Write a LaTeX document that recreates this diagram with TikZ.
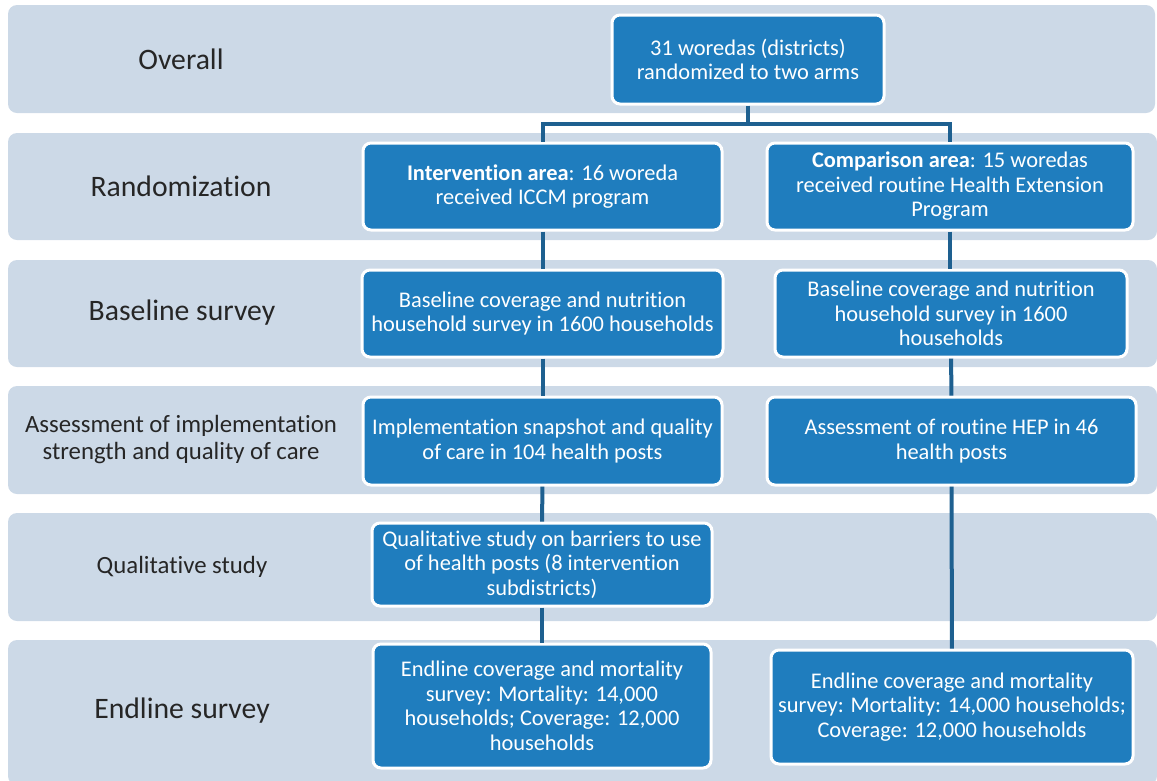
\documentclass[tikz,border=0pt]{standalone}
\usepackage{fontspec}
\setmainfont{Carlito}[Ligatures=NoCommon]
\definecolor{bandcol}{RGB}{204,217,231}
\definecolor{boxcol}{RGB}{31,125,190}
\definecolor{linecol}{RGB}{30,96,144}
\begin{document}
\begin{tikzpicture}[x=1pt,y=-1pt,
  band/.style={fill=bandcol, rounded corners=9pt},
  stepbox/.style={rectangle, rounded corners=8pt, fill=boxcol, draw=white, line width=3pt, text=white, align=center, inner sep=0pt, font=\fontsize{22.4}{24.5}\selectfont},
  lab/.style={align=center, text=black!85, font=\fontsize{29.7}{33}\selectfont},
  labs/.style={align=center, text=black!85, font=\fontsize{24.8}{27}\selectfont},
  conn/.style={draw=linecol, line width=4pt}]
\useasboundingbox (0,0) rectangle (1157,780);
\fill[band] (8,5) rectangle (1155,113);
\fill[band] (8,133) rectangle (1157,240);
\fill[band] (8,260) rectangle (1157,367);
\fill[band] (8,386) rectangle (1157,494);
\fill[band] (8,513) rectangle (1157,621);
\fill[band] (8,640) rectangle (1157,785);
\node[lab] (lab0) at (181,59) {Overall};
\node[lab] (lab1) at (181,186) {Randomization};
\node[lab] (lab2) at (182,313) {Baseline survey};
\node[labs] (lab3) at (181,440) {Assessment of implementation\\strength and quality of care};
\node[labs] (lab4) at (182,567) {Qualitative study};
\node[lab] (lab5) at (182,711) {Endline survey};
\node[stepbox, minimum width=272, minimum height=89] (box0) at (748,59.5) {31 woredas (districts)\\randomized to two arms};
\node[stepbox, minimum width=359, minimum height=87] (box1) at (542.5,186.5) {\textbf{Intervention area}: 16 woreda\\received ICCM program};
\node[stepbox, minimum width=366, minimum height=87] (box2) at (950,186.5) {\textbf{Comparison area}: 15 woredas\\received routine Health Extension\\Program};
\node[stepbox, minimum width=361, minimum height=87] (box3) at (542.5,313.5) {Baseline coverage and nutrition\\household survey in 1600 households};
\node[stepbox, minimum width=352, minimum height=87] (box4) at (951,313.5) {Baseline coverage and nutrition\\household survey in 1600\\households};
\node[stepbox, minimum width=359, minimum height=88] (box5) at (542.5,441) {Implementation snapshot and quality\\of care in 104 health posts};
\node[stepbox, minimum width=369, minimum height=88] (box6) at (951.5,441) {Assessment of routine HEP in 46\\health posts};
\node[stepbox, minimum width=340, minimum height=83] (box7) at (542,564.5) {Qualitative study on barriers to use\\of health posts (8 intervention\\subdistricts)};
\node[stepbox, minimum width=338, minimum height=124] (box8) at (542,706) {Endline coverage and mortality\\survey: Mortality: 14,000\\households; Coverage: 12,000\\households};
\node[stepbox, minimum width=362, minimum height=114] (box9) at (952,707) {Endline coverage and mortality\\survey: Mortality: 14,000 households;\\Coverage: 12,000 households};
\coordinate (split) at (748,124);
\draw[conn] (box0.south) -- (split);
\draw[conn] (split) -| (box1.north);
\draw[conn] (split) -| (box2.north);
\draw[conn] (box1) -- (box3);
\draw[conn] (box2.south) -- (box2.south |- box4.north);
\draw[conn] (box3) -- (box5);
\draw[conn] (box4) -- (box6);
\draw[conn] (box5) -- (box7);
\draw[conn] (box7) -- (box8);
\draw[conn] (box6) -- (box9);
\end{tikzpicture}
\end{document}
